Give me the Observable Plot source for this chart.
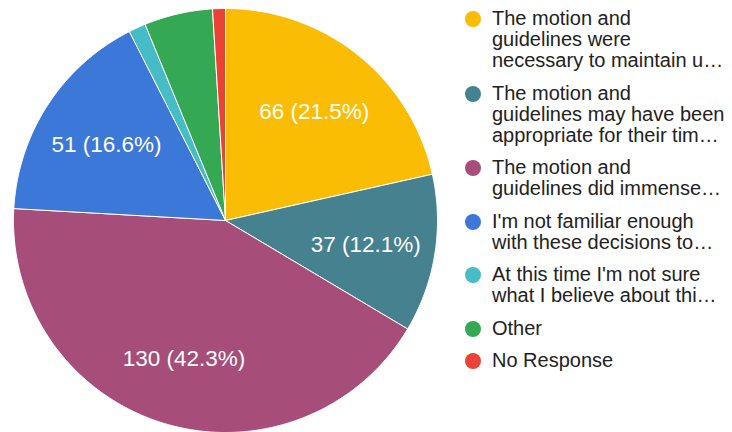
<!DOCTYPE html>
<html>
<head>
<meta charset="utf-8">
<script src="https://cdn.jsdelivr.net/npm/d3@7"></script>
<script src="https://cdn.jsdelivr.net/npm/@observablehq/plot@0.6"></script>
<style>
  html, body { margin: 0; padding: 0; background: #fff; }
  #wrap { position: relative; width: 732px; height: 432px; overflow: hidden; font-family: "Liberation Sans", Arial, sans-serif; }
  #chart { position: absolute; left: 0; top: 0; }
  #legend { position: absolute; left: 465px; top: 8px; width: 267px; }
  .item { display: flex; align-items: flex-start; margin-bottom: 11.5px; }
  .sw { width: 16px; height: 16px; border-radius: 50%; flex: none; margin-top: 3px; margin-right: 11px; }
  .txt { font-size: 20px; line-height: 21px; color: #222; white-space: pre; }
</style>
</head>
<body>
<div id="wrap">
  <div id="chart"></div>
  <div id="legend"></div>
</div>
<script>
const categories = [
  "The motion and guidelines were necessary to maintain u…",
  "The motion and guidelines may have been appropriate for their tim…",
  "The motion and guidelines did immense…",
  "I'm not familiar enough with these decisions to…",
  "At this time I'm not sure what I believe about thi…",
  "Other",
  "No Response"
];
const legendLines = [
  ["The motion and", "guidelines were", "necessary to maintain u…"],
  ["The motion and", "guidelines may have been", "appropriate for their tim…"],
  ["The motion and", "guidelines did immense…"],
  ["I'm not familiar enough", "with these decisions to…"],
  ["At this time I'm not sure", "what I believe about thi…"],
  ["Other"],
  ["No Response"]
];
const counts = [66, 37, 130, 51, 4, 16, 3];
const colors = ["#FBBC04", "#45818E", "#A64D79", "#3C78D8", "#46BDC6", "#34A853", "#EA4335"];

const total = d3.sum(counts);
const pie = d3.pie().sort(null).value(d => d)(counts);

// polygon points for each slice (angles measured clockwise from top)
const pts = [];
pie.forEach((a, i) => {
  const n = Math.max(4, Math.ceil((a.endAngle - a.startAngle) / 0.01));
  pts.push({k: i, x: 0, y: 0, c: colors[i]});
  for (let j = 0; j <= n; j++) {
    const t = a.startAngle + (a.endAngle - a.startAngle) * j / n;
    pts.push({k: i, x: Math.sin(t), y: Math.cos(t), c: colors[i]});
  }
  pts.push({k: i, x: 0, y: 0, c: colors[i]});
});

const labels = pie.filter(a => counts[a.index] / total >= 0.1).map(a => {
  const m = (a.startAngle + a.endAngle) / 2;
  const rr = 0.67;
  return {x: rr * Math.sin(m), y: rr * Math.cos(m),
          t: `${counts[a.index]} (${(100 * counts[a.index] / total).toFixed(1)}%)`};
});

const W = 450, H = 432, cx = 225, cy = 220, R = 212;
const plot = Plot.plot({
  width: W, height: H,
  margin: 0,
  style: {fontFamily: "Liberation Sans, Arial, sans-serif"},
  x: {domain: [-cx / R, (W - cx) / R], range: [0, W], axis: null},
  y: {domain: [-(H - cy) / R, cy / R], range: [H, 0], axis: null},
  color: {type: "identity"},
  marks: [
    Plot.line(pts, {x: "x", y: "y", z: "k", fill: "c", stroke: "white", strokeWidth: 1, curve: "linear"}),
    Plot.text(labels, {x: "x", y: "y", text: "t", fill: "white", fontSize: 22.5, dy: 2})
  ]
});
document.getElementById("chart").appendChild(plot);

const leg = document.getElementById("legend");
legendLines.forEach((lines, i) => {
  const it = document.createElement("div");
  it.className = "item";
  it.title = categories[i];
  const sw = document.createElement("div");
  sw.className = "sw";
  sw.style.background = colors[i];
  const tx = document.createElement("div");
  tx.className = "txt";
  tx.textContent = lines.join("\n");
  it.appendChild(sw); it.appendChild(tx);
  leg.appendChild(it);
});
</script>
</body>
</html>
